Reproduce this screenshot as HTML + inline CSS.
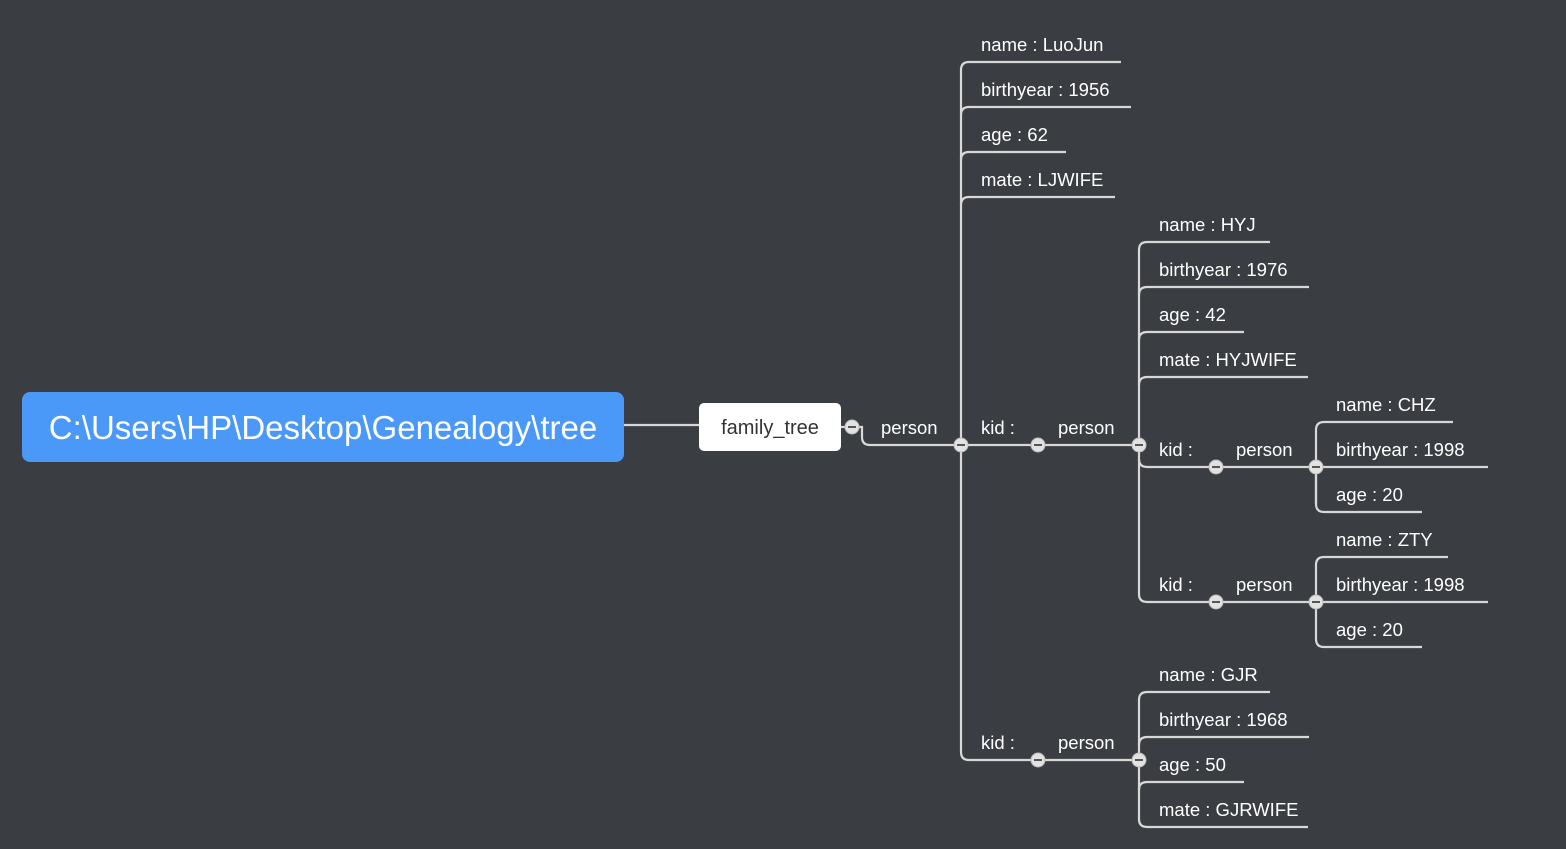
<!DOCTYPE html>
<html><head><meta charset="utf-8"><style>
html,body{margin:0;padding:0;background:#3a3d42;}
svg{display:block}
text{font-family:"Liberation Sans",sans-serif;fill:#fff;font-size:18.5px}
</style></head><body>
<svg width="1566" height="849" viewBox="0 0 1566 849">
<g fill="none" stroke="#d8d8d8" stroke-width="2.2">
<line x1="624" y1="425" x2="699" y2="425"/>
<line x1="841" y1="427" x2="852" y2="427"/>
<path d="M858 427 H862 V437 Q862 445 870 445 H961"/>
<path d="M961 752 V70 Q961 62 969 62 H1121"/>
<path d="M961 115 Q961 107 969 107 H1131"/>
<path d="M961 160 Q961 152 969 152 H1066"/>
<path d="M961 205 Q961 197 969 197 H1115"/>
<line x1="961" y1="445" x2="1139" y2="445"/>
<path d="M961 752 Q961 760 969 760 H1139"/>
<path d="M1139 594 V250 Q1139 242 1147 242 H1270"/>
<path d="M1139 295 Q1139 287 1147 287 H1309"/>
<path d="M1139 340 Q1139 332 1147 332 H1244"/>
<path d="M1139 385 Q1139 377 1147 377 H1308"/>
<path d="M1139 459 Q1139 467 1147 467 H1316"/>
<path d="M1139 594 Q1139 602 1147 602 H1316"/>
<path d="M1316 504 V430 Q1316 422 1324 422 H1453"/>
<path d="M1316 475 V467 H1488"/>
<path d="M1316 475 V504 Q1316 512 1324 512 H1422"/>
<path d="M1316 639 V565 Q1316 557 1324 557 H1448"/>
<path d="M1316 602 H1488"/>
<path d="M1316 639 Q1316 647 1324 647 H1422"/>
<path d="M1139 819 V700 Q1139 692 1147 692 H1270"/>
<path d="M1139 745 Q1139 737 1147 737 H1309"/>
<path d="M1139 790 Q1139 782 1147 782 H1244"/>
<path d="M1139 819 Q1139 827 1147 827 H1308"/>
</g>
<rect x="22" y="392" width="602" height="70" rx="8" fill="#4a98f8"/>
<text x="323" y="439" text-anchor="middle" style="font-size:33px">C:\Users\HP\Desktop\Genealogy\tree</text>
<rect x="699" y="403" width="142" height="48" rx="5" fill="#fff"/>
<text x="770" y="434" text-anchor="middle" style="font-size:20px;fill:#333">family_tree</text>
<g fill="#e2e2e2" stroke="#bbb" stroke-width="1">
<circle cx="852" cy="427" r="7"/><circle cx="961" cy="445" r="7"/><circle cx="1038" cy="445" r="7"/><circle cx="1139" cy="445" r="7"/>
<circle cx="1038" cy="760" r="7"/><circle cx="1139" cy="760" r="7"/><circle cx="1216" cy="467" r="7"/><circle cx="1316" cy="467" r="7"/>
<circle cx="1216" cy="602" r="7"/><circle cx="1316" cy="602" r="7"/>
</g>
<g stroke="#555" stroke-width="2">
<line x1="848" y1="427" x2="856" y2="427"/><line x1="957" y1="445" x2="965" y2="445"/><line x1="1034" y1="445" x2="1042" y2="445"/><line x1="1135" y1="445" x2="1143" y2="445"/>
<line x1="1034" y1="760" x2="1042" y2="760"/><line x1="1135" y1="760" x2="1143" y2="760"/><line x1="1212" y1="467" x2="1220" y2="467"/><line x1="1312" y1="467" x2="1320" y2="467"/>
<line x1="1212" y1="602" x2="1220" y2="602"/><line x1="1312" y1="602" x2="1320" y2="602"/>
</g>
<text x="881" y="434">person</text>
<text x="981" y="51">name : LuoJun</text>
<text x="981" y="96">birthyear : 1956</text>
<text x="981" y="141">age : 62</text>
<text x="981" y="186">mate : LJWIFE</text>
<text x="981" y="434">kid :</text>
<text x="1058" y="434">person</text>
<text x="1159" y="231">name : HYJ</text>
<text x="1159" y="276">birthyear : 1976</text>
<text x="1159" y="321">age : 42</text>
<text x="1159" y="366">mate : HYJWIFE</text>
<text x="1159" y="456">kid :</text>
<text x="1236" y="456">person</text>
<text x="1159" y="591">kid :</text>
<text x="1236" y="591">person</text>
<text x="1336" y="411">name : CHZ</text>
<text x="1336" y="456">birthyear : 1998</text>
<text x="1336" y="501">age : 20</text>
<text x="1336" y="546">name : ZTY</text>
<text x="1336" y="591">birthyear : 1998</text>
<text x="1336" y="636">age : 20</text>
<text x="981" y="749">kid :</text>
<text x="1058" y="749">person</text>
<text x="1159" y="681">name : GJR</text>
<text x="1159" y="726">birthyear : 1968</text>
<text x="1159" y="771">age : 50</text>
<text x="1159" y="816">mate : GJRWIFE</text>
</svg>
</body></html>
